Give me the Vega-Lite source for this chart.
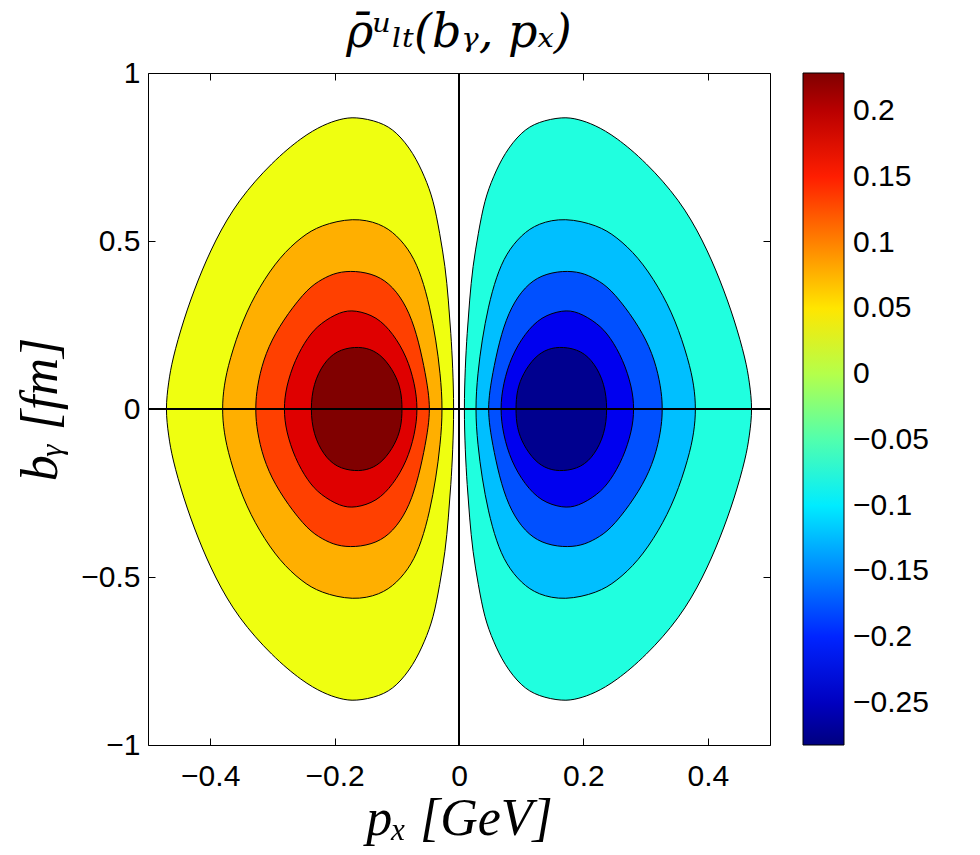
{
"$schema": "https://vega.github.io/schema/vega-lite/v6.json",
"background": "white",
"autosize": "none",
"padding": {"left": 148, "top": 73, "right": 210, "bottom": 110},
"width": 622,
"height": 672,
"config": {
  "axis": {"labelFont": "Liberation Sans", "labelFontSize": 30, "labelColor": "black", "tickColor": "black", "tickWidth": 1, "domain": false, "grid": false, "titleFont": "Liberation Serif", "titleFontStyle": "italic", "titleFontWeight": "normal", "titleFontSize": 52, "titleColor": "black"},
  "view": {"stroke": "black", "fill": "#8FFF70"}
},
"title": {"text": "ρ̄ᵘₗₜ(bᵧ, pₓ)", "frame": "group", "anchor": "middle", "font": "DejaVu Serif", "fontStyle": "italic", "fontWeight": "normal", "fontSize": 46, "color": "black", "offset": 1},
"datasets": {
  "levels": [
    {"c": "L1", "lv": 0.025}, {"c": "L2", "lv": 0.076}, {"c": "L3", "lv": 0.127}, {"c": "L4", "lv": 0.178}, {"c": "L5", "lv": 0.229},
    {"c": "R1", "lv": -0.078}, {"c": "R2", "lv": -0.129}, {"c": "R3", "lv": -0.18}, {"c": "R4", "lv": -0.231}, {"c": "R5", "lv": -0.282}
  ],
  "contours": [
    {"c":"L1","i":0,"x":-0.472,"y":0},{"c":"L1","i":1,"x":-0.467,"y":0.08},{"c":"L1","i":2,"x":-0.461,"y":0.146},{"c":"L1","i":3,"x":-0.443,"y":0.265},{"c":"L1","i":4,"x":-0.42,"y":0.384},{"c":"L1","i":5,"x":-0.392,"y":0.503},{"c":"L1","i":6,"x":-0.355,"y":0.622},{"c":"L1","i":7,"x":-0.3,"y":0.736},{"c":"L1","i":8,"x":-0.252,"y":0.81},{"c":"L1","i":9,"x":-0.218,"y":0.846},{"c":"L1","i":10,"x":-0.191,"y":0.863},{"c":"L1","i":11,"x":-0.167,"y":0.87},{"c":"L1","i":12,"x":-0.127,"y":0.855},{"c":"L1","i":13,"x":-0.1,"y":0.825},{"c":"L1","i":14,"x":-0.073,"y":0.761},{"c":"L1","i":15,"x":-0.055,"y":0.691},{"c":"L1","i":16,"x":-0.041,"y":0.622},{"c":"L1","i":17,"x":-0.031,"y":0.523},{"c":"L1","i":18,"x":-0.022,"y":0.424},{"c":"L1","i":19,"x":-0.017,"y":0.324},{"c":"L1","i":20,"x":-0.013,"y":0.225},{"c":"L1","i":21,"x":-0.01,"y":0.126},{"c":"L1","i":22,"x":-0.008,"y":0},{"c":"L1","i":23,"x":-0.01,"y":-0.126},{"c":"L1","i":24,"x":-0.013,"y":-0.225},{"c":"L1","i":25,"x":-0.017,"y":-0.324},{"c":"L1","i":26,"x":-0.022,"y":-0.424},{"c":"L1","i":27,"x":-0.031,"y":-0.523},{"c":"L1","i":28,"x":-0.041,"y":-0.622},{"c":"L1","i":29,"x":-0.055,"y":-0.691},{"c":"L1","i":30,"x":-0.073,"y":-0.761},{"c":"L1","i":31,"x":-0.1,"y":-0.825},{"c":"L1","i":32,"x":-0.127,"y":-0.855},{"c":"L1","i":33,"x":-0.167,"y":-0.87},{"c":"L1","i":34,"x":-0.191,"y":-0.863},{"c":"L1","i":35,"x":-0.218,"y":-0.846},{"c":"L1","i":36,"x":-0.252,"y":-0.81},{"c":"L1","i":37,"x":-0.3,"y":-0.736},{"c":"L1","i":38,"x":-0.355,"y":-0.622},{"c":"L1","i":39,"x":-0.392,"y":-0.503},{"c":"L1","i":40,"x":-0.42,"y":-0.384},{"c":"L1","i":41,"x":-0.443,"y":-0.265},{"c":"L1","i":42,"x":-0.461,"y":-0.146},{"c":"L1","i":43,"x":-0.467,"y":-0.08},
    {"c":"L2","i":0,"x":-0.381,"y":0},{"c":"L2","i":1,"x":-0.378,"y":0.07},{"c":"L2","i":2,"x":-0.369,"y":0.146},{"c":"L2","i":3,"x":-0.348,"y":0.265},{"c":"L2","i":4,"x":-0.321,"y":0.364},{"c":"L2","i":5,"x":-0.288,"y":0.453},{"c":"L2","i":6,"x":-0.253,"y":0.513},{"c":"L2","i":7,"x":-0.223,"y":0.547},{"c":"L2","i":8,"x":-0.17,"y":0.57},{"c":"L2","i":9,"x":-0.127,"y":0.553},{"c":"L2","i":10,"x":-0.1,"y":0.518},{"c":"L2","i":11,"x":-0.076,"y":0.463},{"c":"L2","i":12,"x":-0.06,"y":0.394},{"c":"L2","i":13,"x":-0.047,"y":0.305},{"c":"L2","i":14,"x":-0.037,"y":0.205},{"c":"L2","i":15,"x":-0.03,"y":0.106},{"c":"L2","i":16,"x":-0.026,"y":0},{"c":"L2","i":17,"x":-0.03,"y":-0.106},{"c":"L2","i":18,"x":-0.037,"y":-0.205},{"c":"L2","i":19,"x":-0.047,"y":-0.305},{"c":"L2","i":20,"x":-0.06,"y":-0.394},{"c":"L2","i":21,"x":-0.076,"y":-0.463},{"c":"L2","i":22,"x":-0.1,"y":-0.518},{"c":"L2","i":23,"x":-0.127,"y":-0.553},{"c":"L2","i":24,"x":-0.17,"y":-0.57},{"c":"L2","i":25,"x":-0.223,"y":-0.547},{"c":"L2","i":26,"x":-0.253,"y":-0.513},{"c":"L2","i":27,"x":-0.288,"y":-0.453},{"c":"L2","i":28,"x":-0.321,"y":-0.364},{"c":"L2","i":29,"x":-0.348,"y":-0.265},{"c":"L2","i":30,"x":-0.369,"y":-0.146},{"c":"L2","i":31,"x":-0.378,"y":-0.07},
    {"c":"L3","i":0,"x":-0.327,"y":0},{"c":"L3","i":1,"x":-0.326,"y":0.047},{"c":"L3","i":2,"x":-0.318,"y":0.126},{"c":"L3","i":3,"x":-0.302,"y":0.205},{"c":"L3","i":4,"x":-0.275,"y":0.285},{"c":"L3","i":5,"x":-0.243,"y":0.359},{"c":"L3","i":6,"x":-0.22,"y":0.387},{"c":"L3","i":7,"x":-0.197,"y":0.407},{"c":"L3","i":8,"x":-0.167,"y":0.412},{"c":"L3","i":9,"x":-0.132,"y":0.399},{"c":"L3","i":10,"x":-0.106,"y":0.364},{"c":"L3","i":11,"x":-0.084,"y":0.305},{"c":"L3","i":12,"x":-0.068,"y":0.225},{"c":"L3","i":13,"x":-0.056,"y":0.126},{"c":"L3","i":14,"x":-0.049,"y":0.05},{"c":"L3","i":15,"x":-0.047,"y":0},{"c":"L3","i":16,"x":-0.049,"y":-0.05},{"c":"L3","i":17,"x":-0.056,"y":-0.126},{"c":"L3","i":18,"x":-0.068,"y":-0.225},{"c":"L3","i":19,"x":-0.084,"y":-0.305},{"c":"L3","i":20,"x":-0.106,"y":-0.364},{"c":"L3","i":21,"x":-0.132,"y":-0.399},{"c":"L3","i":22,"x":-0.167,"y":-0.412},{"c":"L3","i":23,"x":-0.197,"y":-0.407},{"c":"L3","i":24,"x":-0.22,"y":-0.387},{"c":"L3","i":25,"x":-0.243,"y":-0.359},{"c":"L3","i":26,"x":-0.275,"y":-0.285},{"c":"L3","i":27,"x":-0.302,"y":-0.205},{"c":"L3","i":28,"x":-0.318,"y":-0.126},{"c":"L3","i":29,"x":-0.326,"y":-0.047},
    {"c":"L4","i":0,"x":-0.282,"y":0},{"c":"L4","i":1,"x":-0.278,"y":0.066},{"c":"L4","i":2,"x":-0.264,"y":0.146},{"c":"L4","i":3,"x":-0.243,"y":0.215},{"c":"L4","i":4,"x":-0.223,"y":0.255},{"c":"L4","i":5,"x":-0.191,"y":0.29},{"c":"L4","i":6,"x":-0.167,"y":0.295},{"c":"L4","i":7,"x":-0.132,"y":0.275},{"c":"L4","i":8,"x":-0.106,"y":0.225},{"c":"L4","i":9,"x":-0.084,"y":0.156},{"c":"L4","i":10,"x":-0.071,"y":0.076},{"c":"L4","i":11,"x":-0.066,"y":0},{"c":"L4","i":12,"x":-0.071,"y":-0.076},{"c":"L4","i":13,"x":-0.084,"y":-0.156},{"c":"L4","i":14,"x":-0.106,"y":-0.225},{"c":"L4","i":15,"x":-0.132,"y":-0.275},{"c":"L4","i":16,"x":-0.167,"y":-0.295},{"c":"L4","i":17,"x":-0.191,"y":-0.29},{"c":"L4","i":18,"x":-0.223,"y":-0.255},{"c":"L4","i":19,"x":-0.243,"y":-0.215},{"c":"L4","i":20,"x":-0.264,"y":-0.146},{"c":"L4","i":21,"x":-0.278,"y":-0.066},
    {"c":"L5","i":0,"x":-0.239,"y":0},{"c":"L5","i":1,"x":-0.234,"y":0.076},{"c":"L5","i":2,"x":-0.218,"y":0.136},{"c":"L5","i":3,"x":-0.197,"y":0.174},{"c":"L5","i":4,"x":-0.167,"y":0.186},{"c":"L5","i":5,"x":-0.143,"y":0.18},{"c":"L5","i":6,"x":-0.122,"y":0.156},{"c":"L5","i":7,"x":-0.103,"y":0.106},{"c":"L5","i":8,"x":-0.093,"y":0.056},{"c":"L5","i":9,"x":-0.091,"y":0},{"c":"L5","i":10,"x":-0.093,"y":-0.056},{"c":"L5","i":11,"x":-0.103,"y":-0.106},{"c":"L5","i":12,"x":-0.122,"y":-0.156},{"c":"L5","i":13,"x":-0.143,"y":-0.18},{"c":"L5","i":14,"x":-0.167,"y":-0.186},{"c":"L5","i":15,"x":-0.197,"y":-0.174},{"c":"L5","i":16,"x":-0.218,"y":-0.136},{"c":"L5","i":17,"x":-0.234,"y":-0.076},
    {"c":"R1","i":0,"x":0.472,"y":0},{"c":"R1","i":1,"x":0.467,"y":0.08},{"c":"R1","i":2,"x":0.461,"y":0.146},{"c":"R1","i":3,"x":0.443,"y":0.265},{"c":"R1","i":4,"x":0.42,"y":0.384},{"c":"R1","i":5,"x":0.392,"y":0.503},{"c":"R1","i":6,"x":0.355,"y":0.622},{"c":"R1","i":7,"x":0.3,"y":0.736},{"c":"R1","i":8,"x":0.252,"y":0.81},{"c":"R1","i":9,"x":0.218,"y":0.846},{"c":"R1","i":10,"x":0.191,"y":0.863},{"c":"R1","i":11,"x":0.167,"y":0.87},{"c":"R1","i":12,"x":0.127,"y":0.855},{"c":"R1","i":13,"x":0.1,"y":0.825},{"c":"R1","i":14,"x":0.073,"y":0.761},{"c":"R1","i":15,"x":0.055,"y":0.691},{"c":"R1","i":16,"x":0.041,"y":0.622},{"c":"R1","i":17,"x":0.031,"y":0.523},{"c":"R1","i":18,"x":0.022,"y":0.424},{"c":"R1","i":19,"x":0.017,"y":0.324},{"c":"R1","i":20,"x":0.013,"y":0.225},{"c":"R1","i":21,"x":0.01,"y":0.126},{"c":"R1","i":22,"x":0.008,"y":0},{"c":"R1","i":23,"x":0.01,"y":-0.126},{"c":"R1","i":24,"x":0.013,"y":-0.225},{"c":"R1","i":25,"x":0.017,"y":-0.324},{"c":"R1","i":26,"x":0.022,"y":-0.424},{"c":"R1","i":27,"x":0.031,"y":-0.523},{"c":"R1","i":28,"x":0.041,"y":-0.622},{"c":"R1","i":29,"x":0.055,"y":-0.691},{"c":"R1","i":30,"x":0.073,"y":-0.761},{"c":"R1","i":31,"x":0.1,"y":-0.825},{"c":"R1","i":32,"x":0.127,"y":-0.855},{"c":"R1","i":33,"x":0.167,"y":-0.87},{"c":"R1","i":34,"x":0.191,"y":-0.863},{"c":"R1","i":35,"x":0.218,"y":-0.846},{"c":"R1","i":36,"x":0.252,"y":-0.81},{"c":"R1","i":37,"x":0.3,"y":-0.736},{"c":"R1","i":38,"x":0.355,"y":-0.622},{"c":"R1","i":39,"x":0.392,"y":-0.503},{"c":"R1","i":40,"x":0.42,"y":-0.384},{"c":"R1","i":41,"x":0.443,"y":-0.265},{"c":"R1","i":42,"x":0.461,"y":-0.146},{"c":"R1","i":43,"x":0.467,"y":-0.08},
    {"c":"R2","i":0,"x":0.381,"y":0},{"c":"R2","i":1,"x":0.378,"y":0.07},{"c":"R2","i":2,"x":0.369,"y":0.146},{"c":"R2","i":3,"x":0.348,"y":0.265},{"c":"R2","i":4,"x":0.321,"y":0.364},{"c":"R2","i":5,"x":0.288,"y":0.453},{"c":"R2","i":6,"x":0.253,"y":0.513},{"c":"R2","i":7,"x":0.223,"y":0.547},{"c":"R2","i":8,"x":0.17,"y":0.57},{"c":"R2","i":9,"x":0.127,"y":0.553},{"c":"R2","i":10,"x":0.1,"y":0.518},{"c":"R2","i":11,"x":0.076,"y":0.463},{"c":"R2","i":12,"x":0.06,"y":0.394},{"c":"R2","i":13,"x":0.047,"y":0.305},{"c":"R2","i":14,"x":0.037,"y":0.205},{"c":"R2","i":15,"x":0.03,"y":0.106},{"c":"R2","i":16,"x":0.026,"y":0},{"c":"R2","i":17,"x":0.03,"y":-0.106},{"c":"R2","i":18,"x":0.037,"y":-0.205},{"c":"R2","i":19,"x":0.047,"y":-0.305},{"c":"R2","i":20,"x":0.06,"y":-0.394},{"c":"R2","i":21,"x":0.076,"y":-0.463},{"c":"R2","i":22,"x":0.1,"y":-0.518},{"c":"R2","i":23,"x":0.127,"y":-0.553},{"c":"R2","i":24,"x":0.17,"y":-0.57},{"c":"R2","i":25,"x":0.223,"y":-0.547},{"c":"R2","i":26,"x":0.253,"y":-0.513},{"c":"R2","i":27,"x":0.288,"y":-0.453},{"c":"R2","i":28,"x":0.321,"y":-0.364},{"c":"R2","i":29,"x":0.348,"y":-0.265},{"c":"R2","i":30,"x":0.369,"y":-0.146},{"c":"R2","i":31,"x":0.378,"y":-0.07},
    {"c":"R3","i":0,"x":0.327,"y":0},{"c":"R3","i":1,"x":0.326,"y":0.047},{"c":"R3","i":2,"x":0.318,"y":0.126},{"c":"R3","i":3,"x":0.302,"y":0.205},{"c":"R3","i":4,"x":0.275,"y":0.285},{"c":"R3","i":5,"x":0.243,"y":0.359},{"c":"R3","i":6,"x":0.22,"y":0.387},{"c":"R3","i":7,"x":0.197,"y":0.407},{"c":"R3","i":8,"x":0.167,"y":0.412},{"c":"R3","i":9,"x":0.132,"y":0.399},{"c":"R3","i":10,"x":0.106,"y":0.364},{"c":"R3","i":11,"x":0.084,"y":0.305},{"c":"R3","i":12,"x":0.068,"y":0.225},{"c":"R3","i":13,"x":0.056,"y":0.126},{"c":"R3","i":14,"x":0.049,"y":0.05},{"c":"R3","i":15,"x":0.047,"y":0},{"c":"R3","i":16,"x":0.049,"y":-0.05},{"c":"R3","i":17,"x":0.056,"y":-0.126},{"c":"R3","i":18,"x":0.068,"y":-0.225},{"c":"R3","i":19,"x":0.084,"y":-0.305},{"c":"R3","i":20,"x":0.106,"y":-0.364},{"c":"R3","i":21,"x":0.132,"y":-0.399},{"c":"R3","i":22,"x":0.167,"y":-0.412},{"c":"R3","i":23,"x":0.197,"y":-0.407},{"c":"R3","i":24,"x":0.22,"y":-0.387},{"c":"R3","i":25,"x":0.243,"y":-0.359},{"c":"R3","i":26,"x":0.275,"y":-0.285},{"c":"R3","i":27,"x":0.302,"y":-0.205},{"c":"R3","i":28,"x":0.318,"y":-0.126},{"c":"R3","i":29,"x":0.326,"y":-0.047},
    {"c":"R4","i":0,"x":0.282,"y":0},{"c":"R4","i":1,"x":0.278,"y":0.066},{"c":"R4","i":2,"x":0.264,"y":0.146},{"c":"R4","i":3,"x":0.243,"y":0.215},{"c":"R4","i":4,"x":0.223,"y":0.255},{"c":"R4","i":5,"x":0.191,"y":0.29},{"c":"R4","i":6,"x":0.167,"y":0.295},{"c":"R4","i":7,"x":0.132,"y":0.275},{"c":"R4","i":8,"x":0.106,"y":0.225},{"c":"R4","i":9,"x":0.084,"y":0.156},{"c":"R4","i":10,"x":0.071,"y":0.076},{"c":"R4","i":11,"x":0.066,"y":0},{"c":"R4","i":12,"x":0.071,"y":-0.076},{"c":"R4","i":13,"x":0.084,"y":-0.156},{"c":"R4","i":14,"x":0.106,"y":-0.225},{"c":"R4","i":15,"x":0.132,"y":-0.275},{"c":"R4","i":16,"x":0.167,"y":-0.295},{"c":"R4","i":17,"x":0.191,"y":-0.29},{"c":"R4","i":18,"x":0.223,"y":-0.255},{"c":"R4","i":19,"x":0.243,"y":-0.215},{"c":"R4","i":20,"x":0.264,"y":-0.146},{"c":"R4","i":21,"x":0.278,"y":-0.066},
    {"c":"R5","i":0,"x":0.239,"y":0},{"c":"R5","i":1,"x":0.234,"y":0.076},{"c":"R5","i":2,"x":0.218,"y":0.136},{"c":"R5","i":3,"x":0.197,"y":0.174},{"c":"R5","i":4,"x":0.167,"y":0.186},{"c":"R5","i":5,"x":0.143,"y":0.18},{"c":"R5","i":6,"x":0.122,"y":0.156},{"c":"R5","i":7,"x":0.103,"y":0.106},{"c":"R5","i":8,"x":0.093,"y":0.056},{"c":"R5","i":9,"x":0.091,"y":0},{"c":"R5","i":10,"x":0.093,"y":-0.056},{"c":"R5","i":11,"x":0.103,"y":-0.106},{"c":"R5","i":12,"x":0.122,"y":-0.156},{"c":"R5","i":13,"x":0.143,"y":-0.18},{"c":"R5","i":14,"x":0.167,"y":-0.186},{"c":"R5","i":15,"x":0.197,"y":-0.174},{"c":"R5","i":16,"x":0.218,"y":-0.136},{"c":"R5","i":17,"x":0.234,"y":-0.076}
  ],
  "cbar": [
    {"m":-0.282},{"m":-0.25},{"m":-0.2},{"m":-0.15},{"m":-0.1},{"m":-0.05},{"m":0},{"m":0.05},{"m":0.1},{"m":0.15},{"m":0.2},{"m":0.229}
  ]
},
"layer": [
  {"data": {"name": "contours"},
   "transform": [{"lookup": "c", "from": {"data": {"name": "levels"}, "key": "c", "fields": ["lv"]}}, {"filter": {"field": "c", "oneOf": ["L1", "R1"]}}],
   "mark": {"type": "line", "filled": true, "stroke": "black", "strokeWidth": 1, "interpolate": "basis-closed"},
   "encoding": {
      "x": {"field": "x", "type": "quantitative", "scale": {"domain": [-0.5, 0.5], "nice": false, "zero": false}, "axis": {"orient": "bottom", "values": [-0.4, -0.2, 0, 0.2, 0.4], "format": "~g", "tickSize": -7, "labelPadding": 23, "labelFlush": false, "title": "pₓ [GeV]", "titlePadding": 2}},
      "y": {"field": "y", "type": "quantitative", "scale": {"domain": [-1, 1], "nice": false, "zero": false}, "axis": {"orient": "left", "values": [-1, -0.5, 0, 0.5, 1], "format": "~g", "tickSize": -7, "labelPadding": 15, "labelFlush": false, "title": "bᵧ [fm]", "titlePadding": 13}},
      "color": {"field": "lv", "type": "quantitative", "legend": null, "scale": {"type": "quantize", "domain": [-0.282, 0.229], "nice": false, "zero": false, "range": ["#00008F","#00009F","#0000AF","#0000BF","#0000CF","#0000DF","#0000EF","#0000FF","#0010FF","#0020FF","#0030FF","#0040FF","#0050FF","#0060FF","#0070FF","#0080FF","#008FFF","#009FFF","#00AFFF","#00BFFF","#00CFFF","#00DFFF","#00EFFF","#00FFFF","#10FFEF","#20FFDF","#30FFCF","#40FFBF","#50FFAF","#60FF9F","#70FF8F","#80FF80","#8FFF70","#9FFF60","#AFFF50","#BFFF40","#CFFF30","#DFFF20","#EFFF10","#FFFF00","#FFEF00","#FFDF00","#FFCF00","#FFBF00","#FFAF00","#FF9F00","#FF8F00","#FF8000","#FF7000","#FF6000","#FF5000","#FF4000","#FF3000","#FF2000","#FF1000","#FF0000","#EF0000","#DF0000","#CF0000","#BF0000","#AF0000","#9F0000","#8F0000","#800000"]}},
      "order": {"field": "i", "type": "quantitative"},
      "detail": {"field": "c", "type": "nominal"}}},
  {"data": {"name": "contours"},
   "transform": [{"lookup": "c", "from": {"data": {"name": "levels"}, "key": "c", "fields": ["lv"]}}, {"filter": {"field": "c", "oneOf": ["L2", "R2"]}}],
   "mark": {"type": "line", "filled": true, "stroke": "black", "strokeWidth": 1, "interpolate": "basis-closed"},
   "encoding": {
      "x": {"field": "x", "type": "quantitative", "axis": null},
      "y": {"field": "y", "type": "quantitative", "axis": null},
      "color": {"field": "lv", "type": "quantitative", "legend": null, "scale": {"type": "quantize", "domain": [-0.282, 0.229], "nice": false, "zero": false, "range": ["#00008F","#00009F","#0000AF","#0000BF","#0000CF","#0000DF","#0000EF","#0000FF","#0010FF","#0020FF","#0030FF","#0040FF","#0050FF","#0060FF","#0070FF","#0080FF","#008FFF","#009FFF","#00AFFF","#00BFFF","#00CFFF","#00DFFF","#00EFFF","#00FFFF","#10FFEF","#20FFDF","#30FFCF","#40FFBF","#50FFAF","#60FF9F","#70FF8F","#80FF80","#8FFF70","#9FFF60","#AFFF50","#BFFF40","#CFFF30","#DFFF20","#EFFF10","#FFFF00","#FFEF00","#FFDF00","#FFCF00","#FFBF00","#FFAF00","#FF9F00","#FF8F00","#FF8000","#FF7000","#FF6000","#FF5000","#FF4000","#FF3000","#FF2000","#FF1000","#FF0000","#EF0000","#DF0000","#CF0000","#BF0000","#AF0000","#9F0000","#8F0000","#800000"]}},
      "order": {"field": "i", "type": "quantitative"},
      "detail": {"field": "c", "type": "nominal"}}},
  {"data": {"name": "contours"},
   "transform": [{"lookup": "c", "from": {"data": {"name": "levels"}, "key": "c", "fields": ["lv"]}}, {"filter": {"field": "c", "oneOf": ["L3", "R3"]}}],
   "mark": {"type": "line", "filled": true, "stroke": "black", "strokeWidth": 1, "interpolate": "basis-closed"},
   "encoding": {
      "x": {"field": "x", "type": "quantitative", "axis": null},
      "y": {"field": "y", "type": "quantitative", "axis": null},
      "color": {"field": "lv", "type": "quantitative", "legend": null, "scale": {"type": "quantize", "domain": [-0.282, 0.229], "nice": false, "zero": false, "range": ["#00008F","#00009F","#0000AF","#0000BF","#0000CF","#0000DF","#0000EF","#0000FF","#0010FF","#0020FF","#0030FF","#0040FF","#0050FF","#0060FF","#0070FF","#0080FF","#008FFF","#009FFF","#00AFFF","#00BFFF","#00CFFF","#00DFFF","#00EFFF","#00FFFF","#10FFEF","#20FFDF","#30FFCF","#40FFBF","#50FFAF","#60FF9F","#70FF8F","#80FF80","#8FFF70","#9FFF60","#AFFF50","#BFFF40","#CFFF30","#DFFF20","#EFFF10","#FFFF00","#FFEF00","#FFDF00","#FFCF00","#FFBF00","#FFAF00","#FF9F00","#FF8F00","#FF8000","#FF7000","#FF6000","#FF5000","#FF4000","#FF3000","#FF2000","#FF1000","#FF0000","#EF0000","#DF0000","#CF0000","#BF0000","#AF0000","#9F0000","#8F0000","#800000"]}},
      "order": {"field": "i", "type": "quantitative"},
      "detail": {"field": "c", "type": "nominal"}}},
  {"data": {"name": "contours"},
   "transform": [{"lookup": "c", "from": {"data": {"name": "levels"}, "key": "c", "fields": ["lv"]}}, {"filter": {"field": "c", "oneOf": ["L4", "R4"]}}],
   "mark": {"type": "line", "filled": true, "stroke": "black", "strokeWidth": 1, "interpolate": "basis-closed"},
   "encoding": {
      "x": {"field": "x", "type": "quantitative", "axis": null},
      "y": {"field": "y", "type": "quantitative", "axis": null},
      "color": {"field": "lv", "type": "quantitative", "legend": null, "scale": {"type": "quantize", "domain": [-0.282, 0.229], "nice": false, "zero": false, "range": ["#00008F","#00009F","#0000AF","#0000BF","#0000CF","#0000DF","#0000EF","#0000FF","#0010FF","#0020FF","#0030FF","#0040FF","#0050FF","#0060FF","#0070FF","#0080FF","#008FFF","#009FFF","#00AFFF","#00BFFF","#00CFFF","#00DFFF","#00EFFF","#00FFFF","#10FFEF","#20FFDF","#30FFCF","#40FFBF","#50FFAF","#60FF9F","#70FF8F","#80FF80","#8FFF70","#9FFF60","#AFFF50","#BFFF40","#CFFF30","#DFFF20","#EFFF10","#FFFF00","#FFEF00","#FFDF00","#FFCF00","#FFBF00","#FFAF00","#FF9F00","#FF8F00","#FF8000","#FF7000","#FF6000","#FF5000","#FF4000","#FF3000","#FF2000","#FF1000","#FF0000","#EF0000","#DF0000","#CF0000","#BF0000","#AF0000","#9F0000","#8F0000","#800000"]}},
      "order": {"field": "i", "type": "quantitative"},
      "detail": {"field": "c", "type": "nominal"}}},
  {"data": {"name": "contours"},
   "transform": [{"lookup": "c", "from": {"data": {"name": "levels"}, "key": "c", "fields": ["lv"]}}, {"filter": {"field": "c", "oneOf": ["L5", "R5"]}}],
   "mark": {"type": "line", "filled": true, "stroke": "black", "strokeWidth": 1, "interpolate": "basis-closed"},
   "encoding": {
      "x": {"field": "x", "type": "quantitative", "axis": null},
      "y": {"field": "y", "type": "quantitative", "axis": null},
      "color": {"field": "lv", "type": "quantitative", "legend": null, "scale": {"type": "quantize", "domain": [-0.282, 0.229], "nice": false, "zero": false, "range": ["#00008F","#00009F","#0000AF","#0000BF","#0000CF","#0000DF","#0000EF","#0000FF","#0010FF","#0020FF","#0030FF","#0040FF","#0050FF","#0060FF","#0070FF","#0080FF","#008FFF","#009FFF","#00AFFF","#00BFFF","#00CFFF","#00DFFF","#00EFFF","#00FFFF","#10FFEF","#20FFDF","#30FFCF","#40FFBF","#50FFAF","#60FF9F","#70FF8F","#80FF80","#8FFF70","#9FFF60","#AFFF50","#BFFF40","#CFFF30","#DFFF20","#EFFF10","#FFFF00","#FFEF00","#FFDF00","#FFCF00","#FFBF00","#FFAF00","#FF9F00","#FF8F00","#FF8000","#FF7000","#FF6000","#FF5000","#FF4000","#FF3000","#FF2000","#FF1000","#FF0000","#EF0000","#DF0000","#CF0000","#BF0000","#AF0000","#9F0000","#8F0000","#800000"]}},
      "order": {"field": "i", "type": "quantitative"},
      "detail": {"field": "c", "type": "nominal"}}},
  {
    "data": {"values": [{"v": 0}]},
    "mark": {"type": "rule", "color": "black", "strokeWidth": 2},
    "encoding": {"x": {"field": "v", "type": "quantitative", "axis": {"orient": "top", "values": [-0.4, -0.2, 0, 0.2, 0.4], "labels": false, "tickSize": -7, "title": null}}}
  },
  {
    "data": {"values": [{"v": 0}]},
    "mark": {"type": "rule", "color": "black", "strokeWidth": 2},
    "encoding": {"y": {"field": "v", "type": "quantitative", "axis": {"orient": "right", "values": [-1, -0.5, 0, 0.5, 1], "labels": false, "tickSize": -7, "title": null}}}
  },
  {
    "data": {"name": "cbar"},
    "mark": {"type": "point", "opacity": 0},
    "encoding": {
      "stroke": {"field": "m", "type": "quantitative",
        "scale": {"domain": [-0.282, -0.218125, -0.090375, 0.037375, 0.165125, 0.229], "range": ["#000080", "#0000FF", "#00FFFF", "#FFFF00", "#FF0000", "#800000"], "interpolate": "rgb", "nice": false, "zero": false},
        "legend": {"type": "gradient", "direction": "vertical", "orient": "right", "offset": 32, "padding": 0, "title": null, "gradientLength": 672, "gradientThickness": 41, "gradientStrokeColor": "black", "gradientStrokeWidth": 1, "values": [-0.25, -0.2, -0.15, -0.1, -0.05, 0, 0.05, 0.1, 0.15, 0.2], "format": "~g", "labelFont": "Liberation Sans", "labelFontSize": 30, "labelColor": "black", "labelOffset": 9, "labelOverlap": false}}
    }
  }
],
"resolve": {"axis": {"x": "independent", "y": "independent"}}
}
